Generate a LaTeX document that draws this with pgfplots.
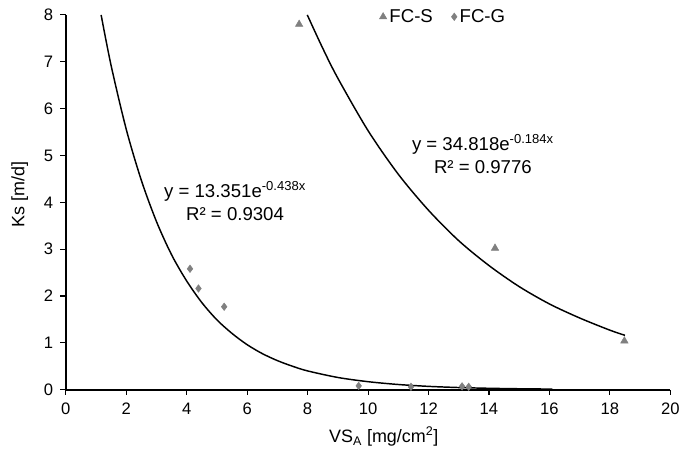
\documentclass[border=0pt]{standalone}
\usepackage{fontspec}
\setmainfont{Liberation Sans}
\usepackage{pgfplots}
\pgfplotsset{compat=1.18}

\definecolor{markgray}{RGB}{128,128,128}

\begin{document}
\begin{tikzpicture}
    \begin{axis}[
        scale only axis,
        width=455pt,
        height=282pt,
        xmin=0, xmax=20,
        ymin=0, ymax=8,
        xtick={0,2,...,20},
        ytick={0,1,...,8},
        axis lines=left,
        axis line style={line width=1.5pt, -},
        tick align=outside,
        major tick length=4pt,
        tick style={black, line width=0.8pt},
        /pgf/number format/assume math mode=true,
        tick label style={font=\fontsize{12.5pt}{14pt}\selectfont},
        yticklabel style={xshift=-2pt},
        xticklabel style={yshift=-2.5pt},
        xlabel={VS\textsubscript{A} [mg/cm\textsuperscript{2}]},
        ylabel={Ks [m/d]},
        label style={font=\fontsize{13.5pt}{16pt}\selectfont},
        xlabel style={at={(axis description cs:0.526,-0.125)}, anchor=center},
        ylabel style={at={(axis description cs:-0.076,0.52)}, anchor=center},
        legend columns=2,
        legend style={draw=none, fill=none, at={(0.625,0.995)}, anchor=center,
            font=\fontsize{14pt}{16pt}\selectfont,
            /tikz/every even column/.append style={column sep=12pt}},
        legend cell align=left,
        clip=false,
    ]

    % FC-S measurements
    \addplot[only marks, mark=triangle*, mark size=3.2pt, color=markgray] coordinates {
        (7.72,7.80) (14.20,3.02) (18.48,1.04)
    };
    \addlegendentry{FC-S}

    % FC-G measurements
    \addplot[only marks, mark=diamond*, mark size=2.8pt, color=markgray] coordinates {
        (4.11,2.58) (4.39,2.16) (5.24,1.77) (9.69,0.08) (11.42,0.06) (13.11,0.07) (13.33,0.06)
    };
    \addlegendentry{FC-G}

    % FC-G trend line
    \addplot[black, line width=1.1pt, smooth, forget plot] coordinates {
        (1.17,8.00) (1.5,6.92) (2.0,5.56) (2.5,4.47) (3.0,3.59) (3.5,2.88) (4.0,2.32)
        (4.5,1.86) (5.0,1.49) (5.5,1.20) (6.0,0.96) (6.5,0.77) (7.0,0.62) (7.5,0.50)
        (8.0,0.40) (9.0,0.26) (10.0,0.17) (11.0,0.11) (12.0,0.070) (13.0,0.045)
        (14.0,0.029) (15.0,0.019) (16.1,0.012)
    };

    % FC-S trend line
    \addplot[black, line width=1.1pt, smooth, forget plot] coordinates {
        (7.99,8.00) (8.5,7.29) (9.0,6.65) (10.0,5.53) (11.0,4.60) (12.0,3.83) (13.0,3.18)
        (14.0,2.65) (15.0,2.20) (16.0,1.83) (17.0,1.53) (18.0,1.27) (18.5,1.16)
    };

    \node[align=center, font=\fontsize{14pt}{17pt}\selectfont] at (axis cs:13.80,5.03)
        {y = 34.818e\textsuperscript{-0.184x}\\R² = 0.9776};
    \node[align=center, font=\fontsize{14pt}{17pt}\selectfont] at (axis cs:5.60,4.03)
        {y = 13.351e\textsuperscript{-0.438x}\\R² = 0.9304};

    \end{axis}
    \path[use as bounding box] (-49.5pt,-42.75pt) rectangle (463.25pt,293.25pt);
\end{tikzpicture}
\end{document}
